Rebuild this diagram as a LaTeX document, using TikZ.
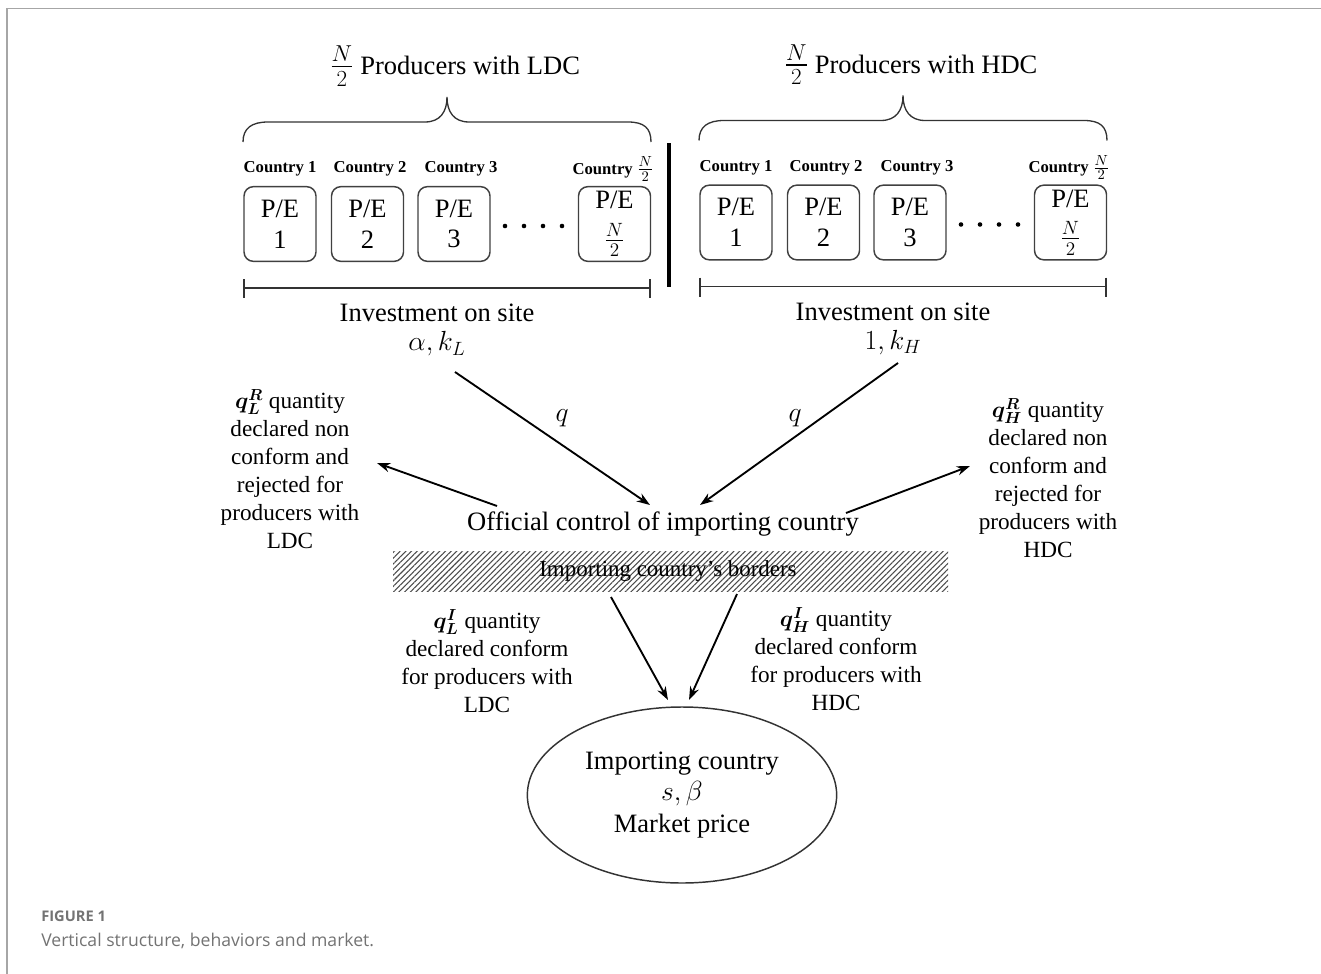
\documentclass[tikz,border=0pt]{standalone}
\usepackage{amsmath}
\usepackage{bm}
\usepackage{fontspec}
\setmainfont{Liberation Serif}
\newfontfamily\capfont{Open Sans}
\usetikzlibrary{arrows.meta,patterns.meta,shapes.geometric,calc}
\newcommand{\bigfrac}{{\fontsize{24}{24}\selectfont$\frac{N}{2}$}}
\newcommand{\smfrac}{{\fontsize{15}{15}\selectfont$\frac{N}{2}$}}
\begin{document}
\begin{tikzpicture}[x=0.75pt,y=-0.75pt,
  main/.style={font=\fontsize{19.9}{21}\selectfont, align=center, inner sep=0pt},
  blk/.style={font=\fontsize{17.4}{21}\selectfont, align=center, inner sep=0pt},
  ctry/.style={font=\bfseries\fontsize{12.5}{14}\selectfont, inner sep=0pt},
  pebox/.style={draw=black!75, line width=1.1pt, rounded corners=7pt, minimum width=54pt, minimum height=56pt, inner sep=0pt},
  petext/.style={font=\fontsize{19.9}{23}\selectfont, align=center, inner sep=0pt},
  arr/.style={line width=1.4pt, -{Stealth[length=10pt,width=7pt]}},
  framel/.style={draw=black!35, line width=1.4pt},
  bracel/.style={draw=black!80, line width=1pt},
  rangel/.style={draw=black!80, line width=1.1pt}]

\useasboundingbox (0,0) rectangle (1321,974);

% frame
\draw[framel] (7,974) -- (7,8.5) -- (1321,8.5);

% ---------- left group (LDC) ----------
\node[main] (titL) at (455,66) {\bigfrac\ Producers with LDC};
\draw[bracel] (243,142) .. controls (243,128) and (252,122) .. (268,122) -- (425,122)
  .. controls (440,122) and (447,112) .. (447,97)
  .. controls (447,112) and (454,122) .. (469,122) -- (628,122)
  .. controls (644,122) and (651,128) .. (651,142);

\node[ctry] (cL1) at (280,169) {Country 1};
\node[ctry] (cL2) at (370,169) {Country 2};
\node[ctry] (cL3) at (461,169) {Country 3};
\node[ctry] (cL4) at (613,169) {Country \smfrac};

\node[pebox] (bL1) at (280,224) {};
\node[pebox] (bL2) at (367.5,224) {};
\node[pebox] (bL3) at (454,224) {};
\node[pebox] (bL4) at (614.5,224) {};
\node[petext] at (bL1) {P/E\\1};
\node[petext] at (bL2) {P/E\\2};
\node[petext] at (bL3) {P/E\\3};
\node[petext] (pL4) at ($(bL4)+(0,-24)$) {P/E};
\node[petext] (fL4) at ($(bL4)+(0,16)$) {$\frac{N}{2}$};
\foreach \x in {505,524,543,562} \fill (\x,226) circle (2.3);

\draw[rangel] (244,288) -- (650,288);
\draw[rangel] (244,279) -- (244,298);
\draw[rangel] (650,279) -- (650,298);
\node[main] (invL) at (437,313) {Investment on site};
\node[main] (parL) at (437,344) {$\alpha, k_L$};

% divider
\draw[line width=3pt] (669,143) -- (669,287);

% ---------- right group (HDC) ----------
\begin{scope}[shift={(456,-1.5)}]
\node[main] (titR) at (455,66) {\bigfrac\ Producers with HDC};
\draw[bracel] (243,142) .. controls (243,128) and (252,122) .. (268,122) -- (425,122)
  .. controls (440,122) and (447,112) .. (447,97)
  .. controls (447,112) and (454,122) .. (469,122) -- (628,122)
  .. controls (644,122) and (651,128) .. (651,142);

\node[ctry] (cR1) at (280,169) {Country 1};
\node[ctry] (cR2) at (370,169) {Country 2};
\node[ctry] (cR3) at (461,169) {Country 3};
\node[ctry] (cR4) at (613,169) {Country \smfrac};

\node[pebox] (bR1) at (280,224) {};
\node[pebox] (bR2) at (367.5,224) {};
\node[pebox] (bR3) at (454,224) {};
\node[pebox] (bR4) at (614.5,224) {};
\node[petext] at (bR1) {P/E\\1};
\node[petext] at (bR2) {P/E\\2};
\node[petext] at (bR3) {P/E\\3};
\node[petext] (pR4) at ($(bR4)+(0,-24)$) {P/E};
\node[petext] (fR4) at ($(bR4)+(0,16)$) {$\frac{N}{2}$};
\foreach \x in {505,524,543,562} \fill (\x,226) circle (2.3);

\draw[rangel] (244,288) -- (650,288);
\draw[rangel] (244,279) -- (244,298);
\draw[rangel] (650,279) -- (650,298);
\node[main] (invR) at (437,313) {Investment on site};
\node[main] (parR) at (437,344) {$1, k_H$};
\end{scope}

% ---------- control ----------
\node[main] (ctrl) at (663,524) {Official control of importing country};

\coordinate (qLs) at (455,372);
\coordinate (qLe) at (650,505);
\coordinate (qRs) at (898,363);
\coordinate (qRe) at (700,505);
\draw[arr] (qLs) -- (qLe);
\draw[arr] (qRs) -- (qRe);
\node[main] (qL) at (562,418) {$q$};
\node[main] (qR) at (795,418) {$q$};

\node[blk] (rejL) at (290,469) {$\bm{q}^{\bm{R}}_{\bm{L}}$ quantity\\declared non\\conform and\\rejected for\\producers with\\LDC};
\node[blk] (rejR) at (1048,478) {$\bm{q}^{\bm{R}}_{\bm{H}}$ quantity\\declared non\\conform and\\rejected for\\producers with\\HDC};
\coordinate (rLs) at (497,506);
\coordinate (rLe) at (377,463);
\coordinate (rRs) at (846,513);
\coordinate (rRe) at (970,466);
\draw[arr] (rLs) -- (rLe);
\draw[arr] (rRs) -- (rRe);

% ---------- borders ----------
\path[pattern={Lines[angle=45,distance=3pt,line width=0.8pt]}, pattern color=black!70] (393,551) rectangle (948,591);
\node[font=\fontsize{17.2}{19}\selectfont, inner sep=0pt] (border) at (668,571) {Importing country's borders};

% ---------- conform ----------
\node[blk] (confL) at (487,661) {$\bm{q}^{\bm{I}}_{\bm{L}}$ quantity\\declared conform\\for producers with\\LDC};
\node[blk] (confR) at (836,659) {$\bm{q}^{\bm{I}}_{\bm{H}}$ quantity\\declared conform\\for producers with\\HDC};

% ---------- market ----------
\node[draw=black!80, ellipse, line width=1.1pt, minimum width=232pt, minimum height=132pt,
  font=\fontsize{19.9}{23.6}\selectfont, align=center, inner sep=0pt] (mkt) at (682,795)
  {Importing country\\$s, \beta$\\Market price};
\coordinate (dLs) at (611,597);
\coordinate (dLe) at (668,700);
\coordinate (dRs) at (737,594);
\coordinate (dRe) at (689,700);
\draw[arr] (dLs) -- (dLe);
\draw[arr] (dRs) -- (dRe);

% ---------- caption ----------
\node[anchor=west, inner sep=0pt, text=black!55, font=\capfont\bfseries\fontsize{11}{13}\selectfont] (figno) at (41,916) {FIGURE 1};
\node[anchor=west, inner sep=0pt, text=black!55, font=\capfont\fontsize{13.2}{15}\selectfont] (figcap) at (41,941) {Vertical structure, behaviors and market.};
\end{tikzpicture}
\end{document}
